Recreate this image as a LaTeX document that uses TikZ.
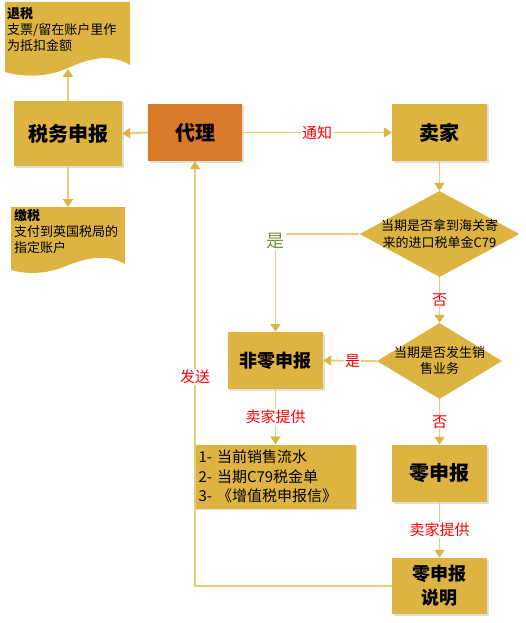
\documentclass[tikz,border=0pt]{standalone}
\usepackage{fontspec}
\setmainfont{Noto Sans CJK SC}
\usetikzlibrary{arrows.meta,shapes.geometric,shadows}
\definecolor{gold}{RGB}{221,180,66}
\definecolor{orng}{RGB}{216,122,42}
\definecolor{lnclr}{RGB}{234,203,118}
\definecolor{okgreen}{RGB}{118,146,60}
\begin{document}
\begin{tikzpicture}[x=1pt,y=-1pt,
  box/.style={rectangle, fill=gold, draw=none, inner sep=0pt, align=center,
    font=\bfseries\fontsize{20}{23}\selectfont,
    drop shadow={opacity=0.25, shadow xshift=1.5pt, shadow yshift=-1.5pt}},
  dia/.style={diamond, fill=gold, draw=none, inner sep=0pt},
  dtext/.style={align=center, inner sep=0pt, font=\fontsize{13}{17}\selectfont},
  doctext/.style={align=left, inner sep=0pt, anchor=north west, font=\fontsize{13}{16}\selectfont},
  conn/.style={draw=lnclr, line width=1.8pt, -{Triangle[width=10pt,length=8pt,color=gold]}},
  lbl/.style={fill=white, text=red, inner sep=1pt, font=\fontsize{15}{18}\selectfont},
]
\useasboundingbox (0,0) rectangle (525,623);

% document shapes
\fill[gold] (5,2) -- (130,2) -- (130,65) .. controls (112,54) and (92,57) .. (68,68)
  .. controls (45,78) and (22,77) .. (5,72) -- cycle;
\node[doctext] (refund) at (7,7) {\textbf{退税}\\支票/留在账户里作\\为抵扣金额};
\coordinate (refundb) at (68,69);

\fill[gold] (11,207) -- (125,207) -- (125,264) .. controls (108,254) and (88,257) .. (66,266)
  .. controls (45,275) and (25,274) .. (11,270) -- cycle;
\node[doctext] (pay) at (14,209) {\textbf{缴税}\\支付到英国税局的\\指定账户};
\coordinate (payt) at (68,207);

% boxes
\node[box, minimum width=108pt, minimum height=65pt] (tax) at (68,133.5) {税务申报};
\node[box, fill=orng, minimum width=94pt, minimum height=57pt] (agent) at (195,132.5) {代理};
\node[box, minimum width=95pt, minimum height=57pt] (seller) at (439.5,132.5) {卖家};
\node[box, minimum width=95pt, minimum height=57pt, font=\bfseries\fontsize{18}{21}\selectfont] (nz) at (275.5,360.5) {非零申报};
\node[box, minimum width=160pt, minimum height=64pt, text width=154pt, inner xsep=3pt, align=left,
  font=\fontsize{15}{19.5}\selectfont] (list) at (275.5,476.5) {1- 当前销售流水\\2- 当期C79税金单\\3- 《增值税申报信》};
\node[box, minimum width=95pt, minimum height=57pt] (z) at (439.5,473.5) {零申报};
\node[box, minimum width=95pt, minimum height=56pt, font=\bfseries\fontsize{18}{24}\selectfont] (zs) at (439.5,586) {零申报\\说明};

% diamonds
\node[dia, minimum width=160pt, minimum height=86pt] (d1) at (439.5,234) {};
\node[dtext] (d1t) at (d1) {当期是否拿到海关寄\\来的进口税单金C79};
\node[dia, minimum width=125pt, minimum height=76pt] (d2) at (439.5,361) {};
\node[dtext, font=\fontsize{13}{16}\selectfont] (d2t) at (d2) {当期是否发生销\\售业务};

% connectors
\draw[conn] (agent.west) -- (tax.east);
\draw[conn] (agent.east) -- node[lbl] (l1) {通知} (seller.west);
\draw[conn] (tax.north) -- (refundb);
\draw[conn] (tax.south) -- (payt);
\draw[conn] (seller.south) -- (d1.north);
\draw[conn] (d1.west) -- (d1.west -| nz.north) -- (nz.north);
\node[lbl, text=okgreen, font=\fontsize{18}{20}\selectfont] (l2) at (275.5,241) {是};
\draw[conn] (d1.south) -- node[lbl] (l3) {否} (d2.north);
\draw[conn] (d2.west) -- node[lbl, pos=0.45] (l4) {是} (nz.east);
\draw[conn] (d2.south) -- node[lbl] (l5) {否} (z.north);
\draw[conn] (nz.south) -- node[lbl] (l6) {卖家提供} (list.north);
\draw[conn] (z.south) -- node[lbl] (l7) {卖家提供} (zs.north);
\draw[conn] (zs.west) -- (zs.west -| agent.south) -- (agent.south);
\node[lbl] (l8) at (195,377) {发送};
\end{tikzpicture}
\end{document}
